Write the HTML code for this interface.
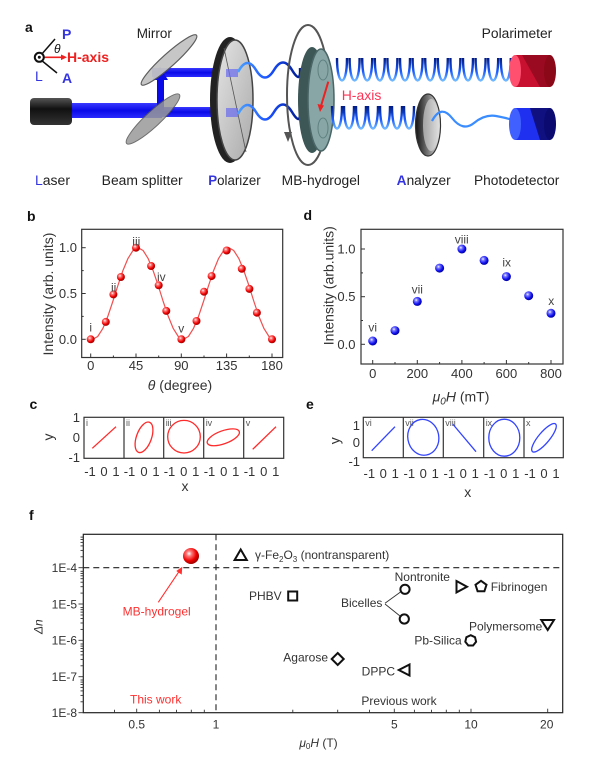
<!DOCTYPE html>
<html><head><meta charset="utf-8"><style>
html,body{margin:0;padding:0;background:#fff;}
svg{display:block;font-family:"Liberation Sans",Arial,sans-serif;}
</style></head><body>
<svg width="607" height="763" viewBox="0 0 607 763" xmlns="http://www.w3.org/2000/svg">
<defs>
<radialGradient id="rs" cx="38%" cy="35%" r="65%"><stop offset="0" stop-color="#fff"/><stop offset="0.25" stop-color="#ff7a7a"/><stop offset="0.7" stop-color="#ee0000"/><stop offset="1" stop-color="#a00000"/></radialGradient>
<radialGradient id="bs" cx="38%" cy="35%" r="65%"><stop offset="0" stop-color="#fff"/><stop offset="0.25" stop-color="#7a7aff"/><stop offset="0.7" stop-color="#1010ee"/><stop offset="1" stop-color="#0000a0"/></radialGradient>
<linearGradient id="lz" x1="0" y1="0" x2="0" y2="1"><stop offset="0" stop-color="#555"/><stop offset="0.4" stop-color="#111"/><stop offset="1" stop-color="#333"/></linearGradient>
<linearGradient id="bm" x1="0" y1="0" x2="0" y2="1"><stop offset="0" stop-color="#3a3aff"/><stop offset="0.5" stop-color="#0a0ae8"/><stop offset="1" stop-color="#2a2aff"/></linearGradient>
<linearGradient id="cg" x1="0" y1="0" x2="0" y2="1"><stop offset="0" stop-color="#001a80"/><stop offset="0.6" stop-color="#1a5cff"/><stop offset="1" stop-color="#70b8ff"/></linearGradient>
<linearGradient id="wv" x1="0" y1="0" x2="1" y2="0"><stop offset="0" stop-color="#4aa0ff"/><stop offset="0.5" stop-color="#1a50ff"/><stop offset="1" stop-color="#001a90"/></linearGradient>
<linearGradient id="an" x1="0" y1="0" x2="1" y2="0"><stop offset="0" stop-color="#111"/><stop offset="0.5" stop-color="#777"/><stop offset="1" stop-color="#eee"/></linearGradient>
<linearGradient id="pz" x1="0" y1="0" x2="1" y2="1"><stop offset="0" stop-color="#e4e4e4"/><stop offset="1" stop-color="#aaa"/></linearGradient>
</defs>

<!-- ===== Panel a ===== -->
<text x="25" y="32" font-size="14" font-weight="bold" fill="#111">a</text>
<!-- coordinate icon -->
<line x1="41" y1="55" x2="55" y2="39" stroke="#111" stroke-width="1.5"/>
<line x1="41" y1="60" x2="57" y2="73" stroke="#111" stroke-width="1.5"/>
<line x1="44" y1="57.3" x2="62" y2="57.3" stroke="#ee2020" stroke-width="1.6"/>
<polygon points="67,57.3 61,54.5 61,60.1" fill="#ee2020"/>
<circle cx="39.3" cy="57.3" r="4.5" fill="#fff" stroke="#111" stroke-width="2"/>
<circle cx="39.3" cy="57.3" r="1.5" fill="#111"/>
<text x="54" y="53" font-size="12" font-style="italic" fill="#111">θ</text>
<text x="62" y="39" font-size="14" font-weight="bold" fill="#3535e0">P</text>
<text x="35" y="81" font-size="14" fill="#3535e0">L</text>
<text x="62" y="83" font-size="14" font-weight="bold" fill="#3535e0">A</text>
<text x="67" y="62" font-size="14" font-weight="bold" fill="#ee2020">H-axis</text>

<!-- laser & beams -->
<rect x="70" y="103" width="92" height="15" fill="url(#bm)"/>
<rect x="30" y="98" width="42" height="27" rx="4" fill="url(#lz)"/>
<rect x="152" y="68" width="82" height="9" fill="url(#bm)"/>
<rect x="162" y="107" width="73" height="10" fill="url(#bm)"/>
<rect x="157" y="74" width="7" height="36" fill="#0a0ae8"/>
<polygon points="152,80 168,80 160,67" fill="#0a0ae8"/>
<ellipse cx="169" cy="60" rx="37" ry="6.5" transform="rotate(-42 169 60)" fill="#c4c4c4" stroke="#555" stroke-width="1.2" opacity="0.95"/>
<ellipse cx="153" cy="119" rx="36" ry="7.5" transform="rotate(-43 153 119)" fill="#999" stroke="#555" stroke-width="1" opacity="0.85"/>

<!-- polarizer -->
<ellipse cx="230" cy="100" rx="20" ry="63" fill="#222"/>
<ellipse cx="235" cy="100" rx="18" ry="60" fill="url(#pz)" stroke="#444" stroke-width="1.5"/>
<line x1="224" y1="48" x2="246" y2="152" stroke="#555" stroke-width="0.8"/>
<rect x="226" y="69" width="12" height="8" fill="#6a6af0" opacity="0.7"/>
<rect x="226" y="108" width="12" height="9" fill="#6a6af0" opacity="0.7"/>

<!-- waves polarizer to hydrogel -->
<path d="M238,72 Q247,55 256,70 T274,70 T292,70 T300,68" fill="none" stroke="url(#wv)" stroke-width="2.5"/>
<path d="M238,114 Q247,97 256,112 T274,112 T292,112 T300,110" fill="none" stroke="url(#wv)" stroke-width="2.5"/>

<!-- rotation arrow (behind) -->
<ellipse cx="308" cy="95" rx="21" ry="70" fill="none" stroke="#555" stroke-width="2"/>
<!-- hydrogel disk -->
<ellipse cx="312" cy="100" rx="14" ry="53" fill="#3d5656"/>
<ellipse cx="321" cy="100" rx="13" ry="51" fill="#88a6a6" stroke="#4a6666" stroke-width="1.5"/>
<ellipse cx="323" cy="70" rx="5" ry="10" fill="none" stroke="#5f8080" stroke-width="1"/>
<ellipse cx="323" cy="128" rx="5" ry="10" fill="none" stroke="#5f8080" stroke-width="1"/>
<polygon points="288,142 284,132 292,132" fill="#555"/>
<line x1="328.3" y1="81.7" x2="321" y2="106" stroke="#ee2020" stroke-width="2"/>
<polygon points="320,112 317.5,104 324,105.5" fill="#ee2020"/>
<text x="341.7" y="100" font-size="14" fill="#ff3355">H-axis</text>

<!-- coils -->
<g fill="none" stroke="url(#cg)" stroke-width="2.4">
<path d="M337,58 C337,88 347,88 347,58"/><path d="M349.6,58 C349.6,88 359.6,88 359.6,58"/>
<path d="M362.2,58 C362.2,88 372.2,88 372.2,58"/><path d="M374.8,58 C374.8,88 384.8,88 384.8,58"/>
<path d="M387.4,58 C387.4,88 397.4,88 397.4,58"/><path d="M400,58 C400,88 410,88 410,58"/>
<path d="M412.6,58 C412.6,88 422.6,88 422.6,58"/><path d="M425.2,58 C425.2,88 435.2,88 435.2,58"/>
<path d="M437.8,58 C437.8,88 447.8,88 447.8,58"/><path d="M450.4,58 C450.4,88 460.4,88 460.4,58"/>
<path d="M463,58 C463,88 473,88 473,58"/><path d="M475.6,58 C475.6,88 485.6,88 485.6,58"/>
<path d="M488.2,58 C488.2,88 498.2,88 498.2,58"/><path d="M500.8,58 C500.8,88 510.8,88 510.8,58"/>
<path d="M332,106 C332,136 342,136 342,106"/><path d="M344,106 C344,136 354,136 354,106"/>
<path d="M356,106 C356,136 366,136 366,106"/><path d="M368,106 C368,136 378,136 378,106"/>
<path d="M380,106 C380,136 390,136 390,106"/><path d="M392,106 C392,136 402,136 402,106"/>
<path d="M404,106 C404,136 414,136 414,106"/>
</g>
<!-- analyzer -->
<ellipse cx="428" cy="125" rx="12.5" ry="31" fill="url(#an)" stroke="#333" stroke-width="1.2"/>
<ellipse cx="431" cy="125" rx="8" ry="26" fill="#ddd" opacity="0.6"/>
<path d="M432,121 Q441,104 452,118 T474,123 T496,116 T512,120" fill="none" stroke="#3a8cff" stroke-width="2.2"/>
<!-- polarimeter -->
<rect x="515" y="55" width="35" height="32" fill="#c81030"/>
<polygon points="522,55 550,55 550,87 540,87" fill="#9a0a20"/>
<ellipse cx="550" cy="71" rx="6" ry="16" fill="#8a0818"/>
<ellipse cx="515" cy="71" rx="6" ry="16" fill="#ff5070"/>
<!-- photodetector -->
<rect x="515" y="108" width="35" height="32" fill="#2030f0"/>
<polygon points="530,108 550,108 550,140 540,140" fill="#101080"/>
<ellipse cx="550" cy="124" rx="6" ry="16" fill="#0a0a70"/>
<ellipse cx="515" cy="124" rx="6" ry="16" fill="#4060ff"/>

<!-- labels -->
<g font-size="13.5" fill="#222">
<text x="136.7" y="38">Mirror</text>
<text x="481.7" y="38" textLength="70.6" lengthAdjust="spacingAndGlyphs">Polarimeter</text>
<text x="35" y="185" textLength="35" lengthAdjust="spacingAndGlyphs"><tspan fill="#3535e0">L</tspan>aser</text>
<text x="101.7" y="185" textLength="81" lengthAdjust="spacingAndGlyphs">Beam splitter</text>
<text x="208.3" y="185" textLength="52.4" lengthAdjust="spacingAndGlyphs"><tspan fill="#3535e0" font-weight="bold">P</tspan>olarizer</text>
<text x="281.7" y="185" textLength="78.3" lengthAdjust="spacingAndGlyphs">MB-hydrogel</text>
<text x="396.7" y="185" textLength="54" lengthAdjust="spacingAndGlyphs"><tspan fill="#3535e0" font-weight="bold">A</tspan>nalyzer</text>
<text x="474" y="185" textLength="85.3" lengthAdjust="spacingAndGlyphs">Photodetector</text>
</g>

<!-- ===== Panel b ===== -->
<text x="27" y="221" font-size="14" font-weight="bold" fill="#111">b</text>
<rect x="81.7" y="229.3" width="201" height="128.2" fill="none" stroke="#333" stroke-width="1.2"/>
<g stroke="#333" stroke-width="1">
<line x1="90.7" y1="357.5" x2="90.7" y2="353.5"/><line x1="136" y1="357.5" x2="136" y2="353.5"/><line x1="181.3" y1="357.5" x2="181.3" y2="353.5"/><line x1="226.6" y1="357.5" x2="226.6" y2="353.5"/><line x1="272" y1="357.5" x2="272" y2="353.5"/>
<line x1="113.4" y1="357.5" x2="113.4" y2="355.5"/><line x1="158.7" y1="357.5" x2="158.7" y2="355.5"/><line x1="204" y1="357.5" x2="204" y2="355.5"/><line x1="249.3" y1="357.5" x2="249.3" y2="355.5"/>
<line x1="81.7" y1="339.3" x2="85.7" y2="339.3"/><line x1="81.7" y1="293.5" x2="85.7" y2="293.5"/><line x1="81.7" y1="247.7" x2="85.7" y2="247.7"/>
<line x1="81.7" y1="316.4" x2="83.7" y2="316.4"/><line x1="81.7" y1="270.6" x2="83.7" y2="270.6"/>
</g>
<g font-size="13" fill="#333" text-anchor="end">
<text x="77" y="343.8">0.0</text><text x="77" y="298">0.5</text><text x="77" y="252.2">1.0</text>
</g>
<g font-size="13" fill="#333" text-anchor="middle">
<text x="90.7" y="370">0</text><text x="136" y="370">45</text><text x="181.3" y="370">90</text><text x="226.6" y="370">135</text><text x="272" y="370">180</text>
</g>
<text x="180" y="390" font-size="14" fill="#333" text-anchor="middle"><tspan font-style="italic">θ</tspan> (degree)</text>
<text transform="translate(53,294) rotate(-90)" font-size="14" fill="#333" text-anchor="middle">Intensity (arb. units)</text>
<polyline fill="none" stroke="#f05050" stroke-width="1.2" stroke-linejoin="round" points="90.7,339.3 92.7,339.3 97.7,336.5 102.8,328.6 107.8,316.4 112.8,301.5 117.9,285.5 122.9,270.6 128,258.4 133,250.5 138,247.7 143.1,250.5 148.1,258.4 153.1,270.6 158.2,285.5 163.2,301.5 168.3,316.4 173.3,328.6 178.3,336.5 183.4,339.3 188.4,336.5 193.4,328.6 198.5,316.4 203.5,301.5 208.6,285.5 213.6,270.6 218.6,258.4 223.7,250.5 228.7,247.7 233.7,250.5 238.8,258.4 243.8,270.6 248.9,285.5 253.9,301.5 258.9,316.4 264,328.6 269,336.5 272,339.3"/>
<g fill="url(#rs)">
<circle cx="90.7" cy="339.3" r="4"/><circle cx="105.8" cy="321.9" r="4"/><circle cx="113.4" cy="294.4" r="4"/><circle cx="120.9" cy="277" r="4"/>
<circle cx="136" cy="247.7" r="4"/><circle cx="151.1" cy="266" r="4"/><circle cx="158.7" cy="285.3" r="4"/><circle cx="166.3" cy="310.9" r="4"/>
<circle cx="181.4" cy="339.3" r="4"/><circle cx="196.5" cy="321" r="4"/><circle cx="204" cy="291.7" r="4"/><circle cx="211.6" cy="276.1" r="4"/>
<circle cx="226.7" cy="250.5" r="4"/><circle cx="241.8" cy="268.8" r="4"/><circle cx="249.4" cy="288.9" r="4"/><circle cx="256.9" cy="312.7" r="4"/>
<circle cx="272" cy="339.3" r="4"/>
</g>
<g font-size="12" fill="#444" text-anchor="middle">
<text x="90.7" y="331.5">i</text><text x="113.7" y="291.5">ii</text><text x="136.3" y="245.5">iii</text><text x="161.3" y="281">iv</text><text x="181.3" y="332.5">v</text>
</g>

<!-- ===== Panel c ===== -->
<text x="29.5" y="409" font-size="14" font-weight="bold" fill="#111">c</text>
<g fill="none" stroke="#333" stroke-width="1.2">
<rect x="84" y="417.3" width="199.7" height="41"/>
<line x1="124" y1="417.3" x2="124" y2="458.3"/><line x1="163.7" y1="417.3" x2="163.7" y2="458.3"/><line x1="203.7" y1="417.3" x2="203.7" y2="458.3"/><line x1="243.7" y1="417.3" x2="243.7" y2="458.3"/>
</g>
<g font-size="9" fill="#555">
<text x="86" y="426">i</text><text x="126" y="426">ii</text><text x="165.7" y="426">iii</text><text x="205.7" y="426">iv</text><text x="245.7" y="426">v</text>
</g>
<g fill="none" stroke="#ff2a2a" stroke-width="1.3">
<line x1="92.3" y1="448.3" x2="116" y2="426.7"/>
<ellipse cx="144" cy="437.3" rx="16" ry="7.5" transform="rotate(-70 144 437.3)"/>
<circle cx="184" cy="436.7" r="16.3"/>
<ellipse cx="223.3" cy="437.3" rx="17" ry="6.5" transform="rotate(-20 223.3 437.3)"/>
<line x1="252.7" y1="449.3" x2="276" y2="426.7"/>
</g>
<g font-size="13" fill="#333" text-anchor="end">
<text x="80" y="421.8">1</text><text x="80" y="441.8">0</text><text x="80" y="462.2">-1</text>
</g>
<g font-size="13" fill="#333" text-anchor="middle">
<text x="90" y="476">-1</text><text x="104" y="476">0</text><text x="116" y="476">1</text>
<text x="129.5" y="476">-1</text><text x="144" y="476">0</text><text x="156" y="476">1</text>
<text x="169.5" y="476">-1</text><text x="183.7" y="476">0</text><text x="195.7" y="476">1</text>
<text x="209.5" y="476">-1</text><text x="223.7" y="476">0</text><text x="235.7" y="476">1</text>
<text x="249.5" y="476">-1</text><text x="263.7" y="476">0</text><text x="275.7" y="476">1</text>
</g>
<text x="185" y="491" font-size="14" fill="#333" text-anchor="middle">x</text>
<text transform="translate(53,437) rotate(-90)" font-size="14" fill="#333" text-anchor="middle">y</text>

<!-- ===== Panel d ===== -->
<text x="303.5" y="220" font-size="14" font-weight="bold" fill="#111">d</text>
<rect x="361" y="229.3" width="202" height="134.7" fill="none" stroke="#333" stroke-width="1.2"/>
<g stroke="#333" stroke-width="1">
<line x1="372.7" y1="364" x2="372.7" y2="360"/><line x1="417.3" y1="364" x2="417.3" y2="360"/><line x1="461.9" y1="364" x2="461.9" y2="360"/><line x1="506.4" y1="364" x2="506.4" y2="360"/><line x1="551" y1="364" x2="551" y2="360"/>
<line x1="395" y1="364" x2="395" y2="362"/><line x1="439.6" y1="364" x2="439.6" y2="362"/><line x1="484.1" y1="364" x2="484.1" y2="362"/><line x1="528.7" y1="364" x2="528.7" y2="362"/>
<line x1="361" y1="344.3" x2="365" y2="344.3"/><line x1="361" y1="296.7" x2="365" y2="296.7"/><line x1="361" y1="249" x2="365" y2="249"/>
<line x1="361" y1="320.5" x2="363" y2="320.5"/><line x1="361" y1="272.9" x2="363" y2="272.9"/>
</g>
<g font-size="13" fill="#333" text-anchor="end">
<text x="355.5" y="348.8">0.0</text><text x="355.5" y="301.2">0.5</text><text x="355.5" y="253.5">1.0</text>
</g>
<g font-size="13" fill="#333" text-anchor="middle">
<text x="372.7" y="377.8">0</text><text x="417.3" y="377.8">200</text><text x="461.9" y="377.8">400</text><text x="506.4" y="377.8">600</text><text x="551" y="377.8">800</text>
</g>
<text x="461" y="401.5" font-size="14" fill="#333" text-anchor="middle"><tspan font-style="italic">μ</tspan><tspan font-style="italic" font-size="10" dy="3">0</tspan><tspan font-style="italic" dy="-3">H</tspan> (mT)</text>
<text transform="translate(333.5,285.7) rotate(-90)" font-size="14" fill="#333" text-anchor="middle">Intensity (arb.units)</text>
<g fill="url(#bs)">
<circle cx="372.7" cy="341" r="4.5"/><circle cx="395" cy="330.6" r="4.5"/><circle cx="417.3" cy="301.4" r="4.5"/><circle cx="439.6" cy="268.1" r="4.5"/>
<circle cx="461.9" cy="249" r="4.5"/><circle cx="484.1" cy="260.4" r="4.5"/><circle cx="506.4" cy="276.6" r="4.5"/><circle cx="528.7" cy="295.7" r="4.5"/><circle cx="551" cy="313.3" r="4.5"/>
</g>
<g font-size="12" fill="#444" text-anchor="middle">
<text x="372.7" y="331.5">vi</text><text x="417.3" y="293.5">vii</text><text x="461.7" y="243.5">viii</text><text x="506.7" y="266.5">ix</text><text x="551.3" y="305">x</text>
</g>

<!-- ===== Panel e ===== -->
<text x="306" y="409" font-size="14" font-weight="bold" fill="#111">e</text>
<g fill="none" stroke="#333" stroke-width="1.2">
<rect x="363.3" y="417.3" width="200" height="40.4"/>
<line x1="403.3" y1="417.3" x2="403.3" y2="457.7"/><line x1="443.3" y1="417.3" x2="443.3" y2="457.7"/><line x1="483.7" y1="417.3" x2="483.7" y2="457.7"/><line x1="524" y1="417.3" x2="524" y2="457.7"/>
</g>
<g font-size="9" fill="#555">
<text x="365.3" y="426">vi</text><text x="405.3" y="426">vii</text><text x="445.3" y="426">viii</text><text x="485.7" y="426">ix</text><text x="526" y="426">x</text>
</g>
<g fill="none" stroke="#3344ff" stroke-width="1.3">
<line x1="371.7" y1="450.7" x2="395" y2="426.7"/>
<ellipse cx="423.3" cy="437.3" rx="15.5" ry="18" transform="rotate(-10 423.3 437.3)"/>
<line x1="452.7" y1="424" x2="476" y2="451.7"/>
<ellipse cx="504.3" cy="437.7" rx="15.5" ry="18.5"/>
<ellipse cx="544" cy="437.8" rx="18" ry="5.5" transform="rotate(-50 544 437.8)"/>
</g>
<g font-size="13" fill="#333" text-anchor="end">
<text x="360" y="430.2">1</text><text x="360" y="447.2">0</text><text x="360" y="466.2">-1</text>
</g>
<g font-size="13" fill="#333" text-anchor="middle">
<text x="369.3" y="477.8">-1</text><text x="383.3" y="477.8">0</text><text x="395.3" y="477.8">1</text>
<text x="409.3" y="477.8">-1</text><text x="423.3" y="477.8">0</text><text x="435.3" y="477.8">1</text>
<text x="449.3" y="477.8">-1</text><text x="463.3" y="477.8">0</text><text x="475.3" y="477.8">1</text>
<text x="489.7" y="477.8">-1</text><text x="503.7" y="477.8">0</text><text x="515.7" y="477.8">1</text>
<text x="530" y="477.8">-1</text><text x="544" y="477.8">0</text><text x="556" y="477.8">1</text>
</g>
<text x="467.7" y="497" font-size="14" fill="#333" text-anchor="middle">x</text>
<text transform="translate(339.5,440.7) rotate(-90)" font-size="14" fill="#333" text-anchor="middle">y</text>

<!-- ===== Panel f ===== -->
<text x="29" y="520" font-size="14" font-weight="bold" fill="#111">f</text>
<rect x="83.3" y="534.3" width="479.4" height="178.4" fill="none" stroke="#222" stroke-width="1.2"/>
<g stroke="#222" stroke-width="1.1" stroke-dasharray="6,4" fill="none">
<line x1="83.3" y1="567.7" x2="562.7" y2="567.7"/>
<line x1="216" y1="534.3" x2="216" y2="712.7"/>
</g>
<g stroke="#333" stroke-width="0.9">
<line x1="78.5" y1="567.7" x2="83.3" y2="567.7"/><line x1="78.5" y1="604" x2="83.3" y2="604"/><line x1="78.5" y1="640.3" x2="83.3" y2="640.3"/><line x1="78.5" y1="676.7" x2="83.3" y2="676.7"/><line x1="78.5" y1="712.7" x2="83.3" y2="712.7"/>
<line x1="80.5" y1="556.8" x2="83.3" y2="556.8"/><line x1="80.5" y1="550.4" x2="83.3" y2="550.4"/><line x1="80.5" y1="545.9" x2="83.3" y2="545.9"/><line x1="80.5" y1="542.4" x2="83.3" y2="542.4"/><line x1="80.5" y1="539.5" x2="83.3" y2="539.5"/><line x1="80.5" y1="537.1" x2="83.3" y2="537.1"/>
<line x1="80.5" y1="593.1" x2="83.3" y2="593.1"/><line x1="80.5" y1="586.7" x2="83.3" y2="586.7"/><line x1="80.5" y1="582.2" x2="83.3" y2="582.2"/><line x1="80.5" y1="578.7" x2="83.3" y2="578.7"/><line x1="80.5" y1="575.8" x2="83.3" y2="575.8"/><line x1="80.5" y1="573.4" x2="83.3" y2="573.4"/><line x1="80.5" y1="571.3" x2="83.3" y2="571.3"/>
<line x1="80.5" y1="629.4" x2="83.3" y2="629.4"/><line x1="80.5" y1="623" x2="83.3" y2="623"/><line x1="80.5" y1="618.5" x2="83.3" y2="618.5"/><line x1="80.5" y1="615" x2="83.3" y2="615"/><line x1="80.5" y1="612.1" x2="83.3" y2="612.1"/><line x1="80.5" y1="609.7" x2="83.3" y2="609.7"/><line x1="80.5" y1="607.6" x2="83.3" y2="607.6"/>
<line x1="80.5" y1="665.8" x2="83.3" y2="665.8"/><line x1="80.5" y1="659.4" x2="83.3" y2="659.4"/><line x1="80.5" y1="654.9" x2="83.3" y2="654.9"/><line x1="80.5" y1="651.4" x2="83.3" y2="651.4"/><line x1="80.5" y1="648.5" x2="83.3" y2="648.5"/><line x1="80.5" y1="646.1" x2="83.3" y2="646.1"/><line x1="80.5" y1="644" x2="83.3" y2="644"/>
<line x1="80.5" y1="701.8" x2="83.3" y2="701.8"/><line x1="80.5" y1="695.4" x2="83.3" y2="695.4"/><line x1="80.5" y1="690.9" x2="83.3" y2="690.9"/><line x1="80.5" y1="687.4" x2="83.3" y2="687.4"/><line x1="80.5" y1="684.5" x2="83.3" y2="684.5"/><line x1="80.5" y1="682.1" x2="83.3" y2="682.1"/><line x1="80.5" y1="680" x2="83.3" y2="680"/>
<line x1="114.5" y1="712.7" x2="114.5" y2="709.7"/><line x1="136.7" y1="712.7" x2="136.7" y2="708.7"/><line x1="159.4" y1="712.7" x2="159.4" y2="709.7"/><line x1="176.5" y1="712.7" x2="176.5" y2="709.7"/><line x1="191.3" y1="712.7" x2="191.3" y2="709.7"/><line x1="204.3" y1="712.7" x2="204.3" y2="709.7"/>
<line x1="292.8" y1="712.7" x2="292.8" y2="709.7"/><line x1="337.7" y1="712.7" x2="337.7" y2="709.7"/><line x1="369.5" y1="712.7" x2="369.5" y2="709.7"/><line x1="394.3" y1="712.7" x2="394.3" y2="708.7"/><line x1="414.4" y1="712.7" x2="414.4" y2="709.7"/><line x1="431.5" y1="712.7" x2="431.5" y2="709.7"/><line x1="446.3" y1="712.7" x2="446.3" y2="709.7"/><line x1="459.3" y1="712.7" x2="459.3" y2="709.7"/><line x1="471" y1="712.7" x2="471" y2="708.7"/><line x1="547.7" y1="712.7" x2="547.7" y2="708.7"/>
</g>
<g font-size="12" fill="#333" text-anchor="end">
<text x="77" y="572">1E-4</text><text x="77" y="608.3">1E-5</text><text x="77" y="644.6">1E-6</text><text x="77" y="681">1E-7</text><text x="77" y="717">1E-8</text>
</g>
<g font-size="12" fill="#333" text-anchor="middle">
<text x="136.7" y="728.3">0.5</text><text x="216" y="728.3">1</text><text x="394.3" y="728.3">5</text><text x="471" y="728.3">10</text><text x="546.7" y="728.3">20</text>
</g>
<text x="318.5" y="747" font-size="12" fill="#333" text-anchor="middle"><tspan font-style="italic">μ</tspan><tspan font-size="8" dy="2">0</tspan><tspan font-style="italic" dy="-2">H</tspan> (T)</text>
<text transform="translate(42.5,626.7) rotate(-90)" font-size="12" fill="#333" text-anchor="middle" font-style="italic">Δn</text>

<!-- f markers -->
<g fill="#fff" stroke="#111" stroke-width="2" stroke-linejoin="miter">
<polygon points="240.7,549.5 246.8,560 234.6,560"/>
<rect x="288.2" y="591.5" width="9" height="9"/>
<polygon points="337.7,653 343.7,659 337.7,665 331.7,659"/>
<circle cx="405" cy="589.3" r="4.6"/>
<circle cx="404.3" cy="619" r="4.6"/>
<polygon points="456.5,581 467,586.7 456.5,592.4"/>
<polygon points="481,580.8 486.5,584.8 484.4,591.2 477.6,591.2 475.5,584.8"/>
<polygon points="541.3,620 554,620 547.7,630"/>
<polygon points="470.7,635.2 475,637.2 476.1,641.8 473.1,645.5 468.3,645.5 465.3,641.8 466.4,637.2"/>
<polygon points="409.5,664.5 398.8,670 409.5,675.5"/>
</g>
<circle cx="191" cy="556" r="8" fill="url(#rs)"/>
<line x1="158.3" y1="602.3" x2="179.5" y2="570.8" stroke="#ff3030" stroke-width="1.1"/>
<polygon points="182.3,566.7 181.7,574.6 176.3,571" fill="#ff3030"/>
<g stroke="#333" stroke-width="0.9" fill="none">
<line x1="385" y1="603.3" x2="400.5" y2="592"/><line x1="385" y1="604" x2="400" y2="616"/>
</g>
<g font-size="12" fill="#333">
<text x="255" y="559">γ-Fe<tspan font-size="8" dy="3">2</tspan><tspan dy="-3">O</tspan><tspan font-size="8" dy="3">3</tspan><tspan dy="-3"> (nontransparent)</tspan></text>
<text x="281.7" y="600.2" text-anchor="end">PHBV</text>
<text x="328" y="661.5" text-anchor="end">Agarose</text>
<text x="422.3" y="581" text-anchor="middle">Nontronite</text>
<text x="361.7" y="607" text-anchor="middle">Bicelles</text>
<text x="490.7" y="591" >Fibrinogen</text>
<text x="542.3" y="630.3" text-anchor="end">Polymersome</text>
<text x="461.7" y="644.3" text-anchor="end">Pb-Silica</text>
<text x="395" y="675.3" text-anchor="end">DPPC</text>
<text x="399" y="705" text-anchor="middle">Previous work</text>
</g>
<g font-size="12" fill="#ff3030" text-anchor="middle">
<text x="156.7" y="615.3">MB-hydrogel</text>
<text x="155.7" y="703.3">This work</text>
</g>
</svg>
</body></html>
